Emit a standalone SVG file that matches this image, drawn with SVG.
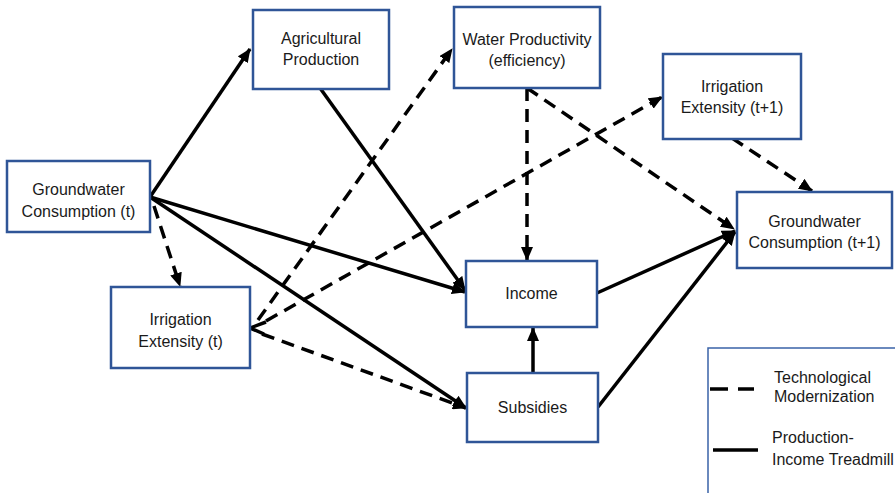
<svg xmlns="http://www.w3.org/2000/svg" width="895" height="493" viewBox="0 0 895 493">
<defs>
<style>
.box{fill:#fff;stroke:#2f5597;stroke-width:2.5}
.t{font-family:"Liberation Sans",Arial,sans-serif;font-size:16px;fill:#1a1a1a;text-anchor:middle}
.lt{font-family:"Liberation Sans",Arial,sans-serif;font-size:16px;fill:#1a1a1a}
.s{fill:none;stroke:#000;stroke-width:3.5;marker-end:url(#ah)}
.d{fill:none;stroke:#000;stroke-width:3.5;stroke-dasharray:13 8;marker-end:url(#ah)}
</style>
<marker id="ah" markerUnits="userSpaceOnUse" markerWidth="14" markerHeight="12" refX="13" refY="6" orient="auto">
<path d="M0,0 L14,6 L0,12 Z" fill="#000"/>
</marker>
</defs>
<rect width="895" height="493" fill="#fff"/>
<g id="connectors">
<line class="s" x1="150" y1="197" x2="250" y2="49"/>
<line class="s" x1="150" y1="197" x2="465" y2="292"/>
<line class="s" x1="150" y1="197" x2="466" y2="408"/>
<line class="s" x1="320" y1="88" x2="465" y2="290"/>
<line class="s" x1="597" y1="293" x2="735" y2="231"/>
<line class="s" x1="598" y1="407" x2="735" y2="232"/>
<line class="s" x1="533" y1="373" x2="533" y2="328"/>
<line class="d" x1="154" y1="206" x2="180" y2="286"/>
<line class="d" x1="258" y1="320" x2="452" y2="49"/>
<line class="d" x1="266" y1="321" x2="662" y2="97"/>
<path d="M266,322 L250,328 L264,334" fill="none" stroke="#000" stroke-width="3.5"/>
<line class="d" x1="262" y1="334" x2="466" y2="408"/>
<line class="d" x1="527" y1="88" x2="527" y2="260"/>
<line class="d" x1="527" y1="88" x2="734" y2="229"/>
<line class="d" x1="732" y1="138" x2="812" y2="191"/>
</g>
<g id="gw_t"><rect class="box" x="7" y="161" width="143" height="71"/><text class="t" x="78.5" y="195">Groundwater</text><text class="t" x="78.5" y="217">Consumption (t)</text></g>
<g id="ie_t"><rect class="box" x="111" y="287" width="139" height="81"/><text class="t" x="180.5" y="325">Irrigation</text><text class="t" x="180.5" y="347">Extensity (t)</text></g>
<g id="agri"><rect class="box" x="253" y="10" width="136" height="79"/><text class="t" x="321" y="44">Agricultural</text><text class="t" x="321" y="65">Production</text></g>
<g id="wp"><rect class="box" x="454" y="7" width="146" height="81"/><text class="t" x="527" y="45">Water Productivity</text><text class="t" x="527" y="66">(efficiency)</text></g>
<g id="ie_t1"><rect class="box" x="663" y="54" width="138" height="85"/><text class="t" x="732" y="92">Irrigation</text><text class="t" x="732" y="113">Extensity (t+1)</text></g>
<g id="gw_t1"><rect class="box" x="737" y="192" width="155" height="76"/><text class="t" x="814.5" y="227">Groundwater</text><text class="t" x="814.5" y="248">Consumption (t+1)</text></g>
<g id="income"><rect class="box" x="466" y="261" width="131" height="66"/><text class="t" x="531.5" y="299">Income</text></g>
<g id="subsidies"><rect class="box" x="467" y="373" width="131" height="69"/><text class="t" x="532.5" y="413">Subsidies</text></g>
<g id="legend">
<rect x="708" y="348" width="200" height="160" fill="#fff" stroke="#3a63a8" stroke-width="1.5"/>
<line x1="710" y1="389" x2="754" y2="389" stroke="#000" stroke-width="3.5" stroke-dasharray="18 10"/>
<line x1="713" y1="450" x2="758" y2="450" stroke="#000" stroke-width="3.5"/>
<text class="lt" x="774" y="383">Technological</text>
<text class="lt" x="774" y="402">Modernization</text>
<text class="lt" x="772" y="443">Production-</text>
<text class="lt" x="772" y="465">Income Treadmill</text>
</g>
</svg>
